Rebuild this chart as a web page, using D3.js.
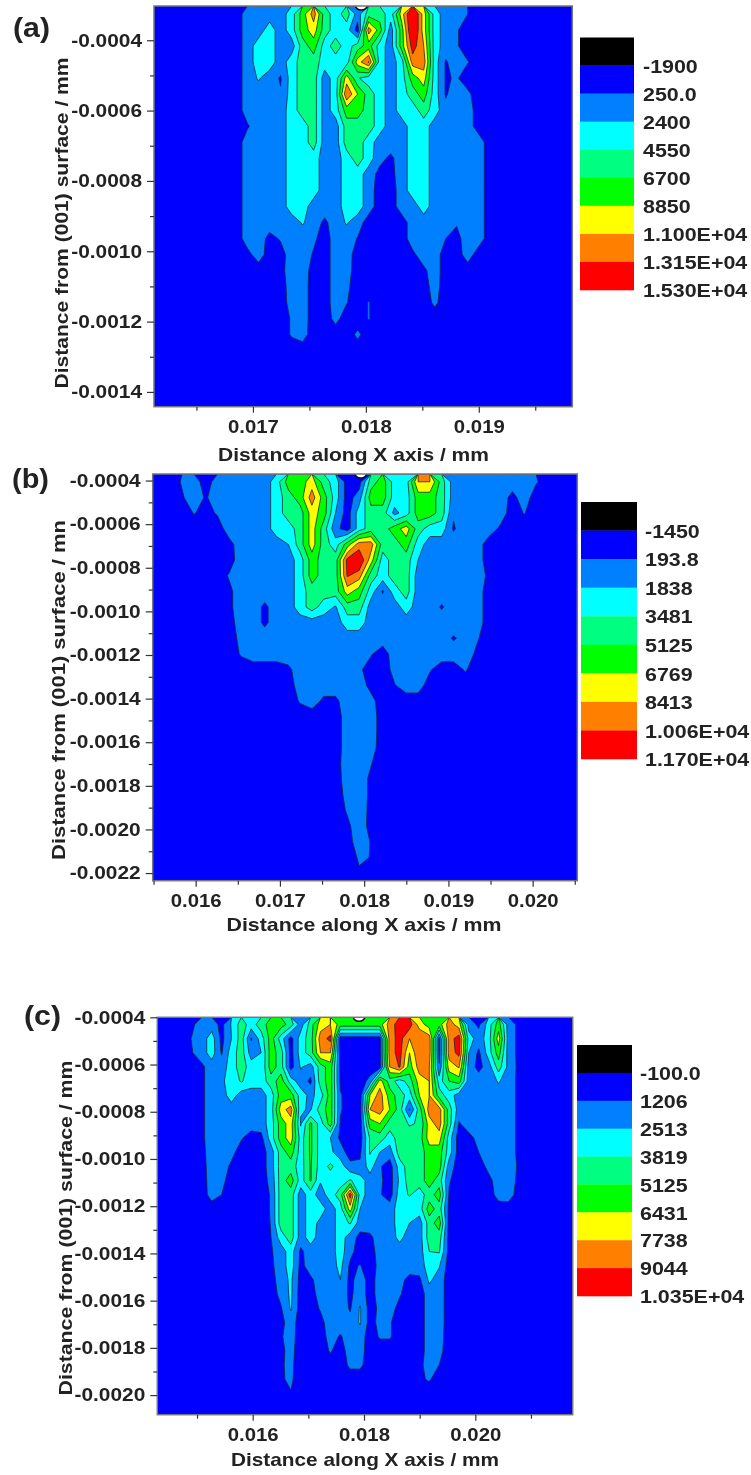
<!DOCTYPE html>
<html lang="en">
<head>
<meta charset="utf-8">
<title>Contour maps</title>
<style>
  body { margin: 0; background: #fff; }
  svg { display: block; filter: blur(0.45px); }
  text { font-family: "Liberation Sans", Arial, sans-serif; font-weight: bold; fill: #222; }
</style>
</head>
<body>
<svg id="chart" width="751" height="1475"></svg>
<script src="https://cdn.jsdelivr.net/npm/d3@7"></script>
<script>
// contour level for each grid cell: 0 = dark blue, 1 = mid blue, 2 = cyan,
// 3 = spring green, 4 = green, 5 = yellow, 6 = orange, 7 = red. Missing cells at row end are 0.
const gridA = [
[0,0,0,0,0,0,0,0,1,1,1,1,2,4,6,3,2,3,1,3,3,2,5,8,5,2,1,1,.5],
[0,0,0,0,0,0,0,0,1,1,2,1,2,4,5,3,2,2,0,6,4,1,4,8,5,2,1,.6],
[0,0,0,0,0,0,0,0,1,2,2,1,1,3,4,2,3,2,3,4,2,1,4,7,5.5,2,1,.6],
[0,0,0,0,0,0,0,0,1,2,2,1,2,3,3,2,2,2,5,6.6,2,1,2,6,6,2,.4,1,.55],
[0,0,0,0,0,0,0,0,1,1.6,1,.4,2,3,3,1,2,5,2.6,2,2,1,2,4,5,2,.4,.6],
[0,0,0,0,0,0,0,0,1,1,1,.6,2,3,3,1,2,6.4,4.5,3,2,1,2,3,4,2,.4,1,.7],
[0,0,0,0,0,0,0,0,1,1,1,1,2,3,3,1,2,4,4,3,2,1,2,2,3,2,.8,1,1],
[0,0,0,0,0,0,0,0,.4,1,1,1,2,2,3,1,1,3,3,3,2,1,1,2,2,1,1,1,1],
[0,0,0,0,0,0,0,0,1,1,1,1,2,2,3,1,1,3,3,2,1,1,1,2,2,1,1,1,1,1],
[0,0,0,0,0,0,0,0,1,1,1,1,2,2,2,1,1,2,3,2,.8,.3,1,2,2,1,1,1,1,1],
[0,0,0,0,0,0,0,0,1,1,1,1,2,2,2,1,1,2,2,1,.2,.2,1,2,2,1,1,1,1,1],
[0,0,0,0,0,0,0,0,1,1,1,1,2,2,2,1,1,2,2,1,0,0,1,2,2,1,1,1,1,1],
[0,0,0,0,0,0,0,0,1,1,1,1,2,2,1,1,1,2,2,1,0,0,1,1,2,1,1,1,1,1],
[0,0,0,0,0,0,0,0,1,1,1,1,1,1.6,1,.3,1,1.6,1,0,0,0,0,1,1,1,1,.6,1,1],
[0,0,0,0,0,0,0,0,1,1,.2,.6,1,1,.7,0,1,1,.45,0,0,0,0,1,1,1,.5,.2,1,1],
[0,0,0,0,0,0,0,0,.2,1,0,.1,1,1,.4,0,1,1,0,0,0,0,0,.3,1,1,0,0,1],
[0,0,0,0,0,0,0,0,0,0,0,.2,1,1,.1,0,1,.9,0,0,0,0,0,0,.3,1],
[0,0,0,0,0,0,0,0,0,0,0,0,1,1,0,0,1,.7,0,0,0,0,0,0,.1,.9],
[0,0,0,0,0,0,0,0,0,0,0,0,.9,1,0,0,1,.55,0,.55,0,0,0,0,0,.7],
[0,0,0,0,0,0,0,0,0,0,0,0,.6,1,0,0,.8,0,0,.55],
[0,0,0,0,0,0,0,0,0,0,0,0,.6,.9,0,0,0,0,.7],
[],[],[],[]
];
const gridB = [
[0,0,.6,1,0,1,1,1,1,1,2,4,4,5,3,2,0,0,3,4,2,2,5.5,5.5,3,1,1,1,1,1,1,1,.6],
[0,0,.4,1,.4,1,1,1,1,1,2,3,4,6,4,2,0,1,4,4,2,2,4,4,3,1,1,1,1,1,.2,1],
[0,0,0,.55,.2,.6,1,1,1,1,2,3,3,5,4,1.5,0,2,3,3,1.2,2,4,4,3,.6,1,1,1,1,0,.55],
[0,0,0,0,0,0,1,1,.6,1,2,2,3,5,3,.8,0,2,3,3,4,5,3,2,2,.4,1,1,1,.3],
[0,0,0,0,0,0,.2,1,1,1,1,1.5,3,5,3,2,4,6,6,3,3,4,2,1,1,1,1,1],
[0,0,0,0,0,0,.1,1,1,1,1,1,2,4,3,3,6.8,7.5,5,2,3,3,1.5,1,1,1,1,1],
[0,0,0,0,0,0,.6,1,1,1,1,1,2,4,3,3,6.6,6,3,2,3,3,1,1,1,1,1,1,.3],
[0,0,0,0,0,0,.3,1,1,1,1,1,2,3,3,3,5,4,2,.4,2,3,1,1,1,1,1,1],
[0,0,0,0,0,0,.3,1,1,.3,1,1,2,3,2,1.4,3,3,1,1,1,2,1,1,.4,1,1,1],
[0,0,0,0,0,0,.1,1,1,.3,1,1,1,1,1,1,2,2,1,1,1,1,1,1,1,1,1,1],
[0,0,0,0,0,0,0,.8,1,1,1,1,1,1,1,1,1,1,1,1,1,1,1,1,1,.4,.8,.6],
[0,0,0,0,0,0,0,.6,1,1,1,1,1,1,1,1,1,1,.6,0,1,1,1,1,1,1,1,.3],
[0,0,0,0,0,0,0,0,0,0,0,.3,1,1,1,1,1,.7,0,0,.8,1,1,.6,0,0,.6],
[0,0,0,0,0,0,0,0,0,0,0,0,1,1,1,1,1,1,.2,0,.45,1,1],
[0,0,0,0,0,0,0,0,0,0,0,0,.6,1,.3,.3,1,1,.8],
[0,0,0,0,0,0,0,0,0,0,0,0,0,0,0,0,1,1,1],
[0,0,0,0,0,0,0,0,0,0,0,0,0,0,0,0,1,1,1],
[0,0,0,0,0,0,0,0,0,0,0,0,0,0,0,0,1,1,.9],
[0,0,0,0,0,0,0,0,0,0,0,0,0,0,0,.1,1,1,.55],
[0,0,0,0,0,0,0,0,0,0,0,0,0,0,0,0,1,1,.3],
[0,0,0,0,0,0,0,0,0,0,0,0,0,0,0,0,.8,1,.3],
[0,0,0,0,0,0,0,0,0,0,0,0,0,0,0,0,.6,1,.25],
[0,0,0,0,0,0,0,0,0,0,0,0,0,0,0,0,.3,1,.2],
[0,0,0,0,0,0,0,0,0,0,0,0,0,0,0,0,.1,1,.45],
[0,0,0,0,0,0,0,0,0,0,0,0,0,0,0,0,0,.62,.48],
[0,0,0,0,0,0,0,0,0,0,0,0,0,0,0,0,0,.4,.45]
];
const gridC = [
[0,0,0,.3,1,1,.2,1.6,3,2,3,4,4,3,1,3,5,5.5,4,4,4,4,4,6,7,7,5,4,4,6,5,1,.3,2,4,1,.3],
[0,0,0,.55,1,2,.2,1.5,3,.4,2,4,2,.1,2,3,6,6.8,0,0,0,0,0,6,6.9,5.5,6.5,6,.2,6,7,2,1,2,5,1,.3],
[0,0,0,.45,1,2,.4,2,3,1,1.5,4,3,.1,2,3,5.5,5.5,0,0,0,0,0,6,6.9,4.5,6.5,6,.2,6,6.8,1.5,.3,2,4,1,.3],
[0,0,0,0,.3,1,1,2,3,2,1.6,4,3,.1,1.6,1,3,4,.3,0,0,0,0,5.5,6.6,4,6,5.5,.6,5,5.6,1,.2,1,3,1.2,.3],
[0,0,0,0,.3,1,1.3,2,2.6,2,2,3,4,2,1,.3,3,4,.3,0,0,.8,5,3,2,3,5,5.5,2,3.5,4,1,1,1,1.6,1,.3],
[0,0,0,0,.3,1,1,2,1,1,1,2,4,4,2,1.2,2,4,.6,0,0,4.5,6,4,3,2,4.5,5.5,3,2,1,1,1,1,1,1,.3],
[0,0,0,0,.3,1,1,1,1,1,1,2,5,6,1.6,1.4,3,4,.6,0,0,5.5,6,4.5,3,.4,3,6,6,3,1,1,1,1,1,1,.3],
[0,0,0,0,.3,1,1,1,1,1,1,2,4,5,1.4,3.7,2,4,.4,0,0,4,4.5,3,3,2.4,2.6,5,6,3,.4,1,1,1,1,1,.3],
[0,0,0,0,.3,1,1,1,.6,0,.2,2,4,5,2,3.7,2,1.5,.3,0,0,2.6,3,2,3,3,3,5,5,2,0,.2,.8,1,1,1,.3],
[0,0,0,0,.2,1,1,.8,0,0,0,1,3,4,2,3.7,2,1.7,1,0,.3,2.6,1.5,1,3,3,3,4,4,2,0,0,.5,1,1,1,.3],
[0,0,0,0,.1,1,1,.3,0,0,0,1,3,3,2,3.6,2,2.7,2,.8,.7,2,.6,0,2,3,3,4,4,1,0,0,0,.8,1,1,.4],
[0,0,0,0,0,1,.8,0,0,0,0,.8,3,4,2,3.6,1.6,2,2,2.6,2,1,.7,0,1.7,3,3,4,3,.6,0,0,0,.2,1,1,.3],
[0,0,0,0,0,.9,.5,0,0,0,0,.6,3,3,1,2,1,2,3,7,2,1,.6,0,2,2.6,2,3,4,.4,0,0,0,0,.9,1,.1],
[0,0,0,0,0,0,0,0,0,0,0,.6,3,3,1,2,2,1,2,5,1.5,1,1,1,2,1.6,2,4,3,.2],
[0,0,0,0,0,0,0,0,0,0,0,.55,3,3,1,2,1.2,1,2,2.6,1,1,1,1,2,1.5,1,3,4,.1],
[0,0,0,0,0,0,0,0,0,0,0,.5,2,3,1,2,1,1,2,1,.2,.3,1,1,1.8,1,1,3,3,.1],
[0,0,0,0,0,0,0,0,0,0,0,.4,1,2,.3,1,1,1,2,.8,0,0,1,1,1,1,1,2.5,2.6,.1],
[0,0,0,0,0,0,0,0,0,0,0,.3,1,2,.2,1,1,1,1.8,.3,.55,0,.8,1,1,1,1,2,1.6],
[0,0,0,0,0,0,0,0,0,0,0,.1,1,1.7,.1,.3,1,1,1.5,.2,1,.1,.9,1,.8,.2,.3,1.7,1],
[0,0,0,0,0,0,0,0,0,0,0,0,.8,1.7,0,0,1,1,1,.3,1,.1,.9,1,.6,0,0,1,1],
[0,0,0,0,0,0,0,0,0,0,0,0,.4,1.6,0,0,.6,1,1,.4,1.6,.1,.7,.9,.2,0,0,1,1],
[0,0,0,0,0,0,0,0,0,0,0,0,.2,1,0,0,.2,1,1,.8,1.6,.1,.8,.6,0,0,0,1,1],
[0,0,0,0,0,0,0,0,0,0,0,0,.4,.9,0,0,0,.9,.4,1,1,0,.6,.6,0,0,0,1,.9],
[0,0,0,0,0,0,0,0,0,0,0,0,.3,.8,0,0,0,.6,0,1,.9,0,0,0,0,0,0,1,.8],
[0,0,0,0,0,0,0,0,0,0,0,0,.4,.7,0,0,0,0,0,.7,.7,0,0,0,0,0,.2,1,.5],
[0,0,0,0,0,0,0,0,0,0,0,0,.4,.65,0,0,0,0,0,0,0,0,0,0,0,0,.35,.6],
[0,0,0,0,0,0,0,0,0,0,0,0,0,.45],
[]
];

// contour boundaries, as printed in each legend
const thresholdsA = [250, 2400, 4550, 6700, 8850, 11000, 13150];
const thresholdsB = [193.8, 1838, 3481, 5125, 6769, 8413, 10060];
const thresholdsC = [1206, 2513, 3819, 5125, 6431, 7738, 9044];
const legendA = ["-1900", "250.0", "2400", "4550", "6700", "8850", "1.100E+04", "1.315E+04", "1.530E+04"];
const legendB = ["-1450", "193.8", "1838", "3481", "5125", "6769", "8413", "1.006E+04", "1.170E+04"];
const legendC = ["-100.0", "1206", "2513", "3819", "5125", "6431", "7738", "9044", "1.035E+04"];

const xTicksA = [0.017, 0.018, 0.019];
const xMinorA = [0.0165, 0.0175, 0.0185, 0.0195];
const xTicksB = [0.016, 0.017, 0.018, 0.019, 0.020];
const xMinorB = [0.0155, 0.0165, 0.0175, 0.0185, 0.0195, 0.0205];
const xTicksC = [0.016, 0.018, 0.020];
const xMinorC = [0.015, 0.017, 0.019, 0.021];
const yTicksA = [-0.0004, -0.0006, -0.0008, -0.0010, -0.0012, -0.0014];
const yTicksB = [-0.0004, -0.0006, -0.0008, -0.0010, -0.0012, -0.0014, -0.0016, -0.0018, -0.0020, -0.0022];
const yTicksC = [-0.0004, -0.0006, -0.0008, -0.0010, -0.0012, -0.0014, -0.0016, -0.0018, -0.0020];

const colors = ["#000000", "#0000ff", "#0080ff", "#00ffff", "#00ff80", "#00ff00", "#ffff00", "#ff8000", "#ff0000"];

const panels = [
  { tag: "(a)", tagX: 13, tagY: 30, grid: gridA, nx: 38, thresholds: thresholdsA, legend: legendA,
    left: 154, right: 572.3, top: 6, bottom: 406.7,
    xDomain: [0.016124, 0.019828], yDomain: [-0.0003026, -0.001442],
    xTicks: xTicksA, xMinor: xMinorA, yTicks: yTicksA, notchX: 0.01796,
    xTitle: "Distance along X axis / mm", xTitleX: 353.5, xTitleY: 456.5, xTitleW: 271,
    yTitle: "Distance from (001) surface / mm", yTitleX: 63, yTitleY: 223, yTitleW: 331,
    legX: 580, legW: 54, legTop: 37.5, legBottom: 290, legText: 643 },
  { tag: "(b)", tagX: 12, tagY: 481, grid: gridB, nx: 36, thresholds: thresholdsB, legend: legendB,
    left: 152.7, right: 577.3, top: 474, bottom: 880.7,
    xDomain: [0.01549, 0.02053], yDomain: [-0.00037, -0.002235],
    xTicks: xTicksB, xMinor: xMinorB, yTicks: yTicksB, notchX: 0.01796,
    xTitle: "Distance along X axis / mm", xTitleX: 364, xTitleY: 926.5, xTitleW: 275,
    yTitle: "Distance from (001) surface / mn", yTitleX: 60, yTitleY: 690, yTitleW: 340,
    legX: 581, legW: 56, legTop: 502, legBottom: 759, legText: 645 },
  { tag: "(c)", tagX: 24, tagY: 1018, grid: gridC, nx: 42, thresholds: thresholdsC, legend: legendC,
    left: 157.3, right: 572.7, top: 1017.3, bottom: 1414.7,
    xDomain: [0.014286, 0.02175], yDomain: [-0.0004, -0.002083],
    xTicks: xTicksC, xMinor: xMinorC, yTicks: yTicksC, notchX: 0.017911,
    xTitle: "Distance along X axis / mm", xTitleX: 365, xTitleY: 1461.5, xTitleW: 268,
    yTitle: "Distance from (001) surface / mm", yTitleX: 67, yTitleY: 1228, yTitleW: 335,
    legX: 577, legW: 55, legTop: 1045, legBottom: 1296, legText: 640 }
];

const svg = d3.select("#chart");

// the source text is wider than the font, so stretch tick labels a bit
function widen(sel, k) {
  sel.each(function () {
    const w = this.getComputedTextLength();
    d3.select(this).attr("textLength", w * k).attr("lengthAdjust", "spacingAndGlyphs");
  });
}
// plain hyphen, d3 uses a long minus sign
const hyphen = fmt => v => fmt(v).replace("\u2212", "-");

panels.forEach((p, n) => {
  const g = svg.append("g");
  const ny = p.grid.length;
  const x = d3.scaleLinear().domain(p.xDomain).range([p.left, p.right]);
  const y = d3.scaleLinear().domain(p.yDomain).range([p.top, p.bottom]);
  const colX = d3.scaleLinear().domain([0, p.nx]).range(p.xDomain);
  const rowY = d3.scaleLinear().domain([0, ny]).range(p.yDomain);

  // levels sit half a step either side of a printed boundary
  const levelToValue = d3.scaleLinear().domain(p.thresholds.map((t, i) => i + 0.5)).range(p.thresholds);
  const values = [];
  p.grid.forEach(row => d3.range(p.nx).forEach(i => values.push(levelToValue(row[i] ?? 0))));

  const contours = d3.contours().size([p.nx, ny]).thresholds(p.thresholds)(values);
  const path = d3.geoPath(d3.geoTransform({
    point(cx, cy) { this.stream.point(x(colX(cx)), y(rowY(cy))); }
  }));

  const clipId = "clip" + n;
  g.append("clipPath").attr("id", clipId).append("rect")
    .attr("x", p.left).attr("y", p.top)
    .attr("width", p.right - p.left).attr("height", p.bottom - p.top);

  const plot = g.append("g").attr("clip-path", `url(#${clipId})`);
  plot.append("rect")
    .attr("x", p.left).attr("y", p.top)
    .attr("width", p.right - p.left).attr("height", p.bottom - p.top)
    .attr("fill", colors[1]);
  plot.selectAll("path").data(contours).join("path")
    .attr("d", path)
    .attr("fill", (d, i) => colors[i + 2])
    .attr("stroke", "#1a2a3a")
    .attr("stroke-width", 0.8)
    .attr("stroke-linejoin", "round");
  // the small gap at the top edge, below the lowest level
  plot.append("ellipse")
    .attr("cx", x(p.notchX)).attr("cy", p.top - 1)
    .attr("rx", 6).attr("ry", 5)
    .attr("fill", "#fff").attr("stroke", "#111").attr("stroke-width", 1.6);

  // frame
  g.append("rect")
    .attr("x", p.left).attr("y", p.top)
    .attr("width", p.right - p.left).attr("height", p.bottom - p.top)
    .attr("fill", "none").attr("stroke", "#777").attr("stroke-width", 1.5);

  // axes
  const xAxis = g.append("g").attr("transform", `translate(0,${p.bottom})`)
    .call(d3.axisBottom(x).tickValues(p.xTicks).tickFormat(d3.format(".3f")).tickSize(6).tickPadding(8));
  const xMinor = g.append("g").attr("transform", `translate(0,${p.bottom})`)
    .call(d3.axisBottom(x).tickValues(p.xMinor).tickFormat("").tickSize(4));
  const yMinorVals = d3.range(p.yTicks.length).map(i => p.yTicks[i] - 0.0001)
    .filter(v => v > p.yDomain[1]);
  const yAxis = g.append("g").attr("transform", `translate(${p.left},0)`)
    .call(d3.axisLeft(y).tickValues(p.yTicks).tickFormat(hyphen(d3.format(".4f"))).tickSize(7).tickPadding(5));
  const yMinor = g.append("g").attr("transform", `translate(${p.left},0)`)
    .call(d3.axisLeft(y).tickValues(yMinorVals).tickFormat("").tickSize(4));
  [xAxis, xMinor, yAxis, yMinor].forEach(a => {
    a.select(".domain").remove();
    a.selectAll("line").attr("stroke", "#333").attr("stroke-width", 1.2);
    a.selectAll("text").attr("font-size", 18);
  });
  xAxis.selectAll("text").call(widen, 1.13);
  yAxis.selectAll("text").call(widen, 1.16);

  // titles
  g.append("text").text(p.xTitle)
    .attr("x", p.xTitleX).attr("y", p.xTitleY)
    .attr("text-anchor", "middle").attr("dominant-baseline", "middle")
    .attr("font-size", 18.5)
    .attr("textLength", p.xTitleW).attr("lengthAdjust", "spacingAndGlyphs");
  g.append("text").text(p.yTitle)
    .attr("transform", `translate(${p.yTitleX},${p.yTitleY}) rotate(-90)`)
    .attr("text-anchor", "middle").attr("dominant-baseline", "middle")
    .attr("font-size", 18)
    .attr("textLength", p.yTitleW).attr("lengthAdjust", "spacingAndGlyphs");
  g.append("text").text(p.tag)
    .attr("x", p.tagX).attr("y", p.tagY)
    .attr("dominant-baseline", "middle")
    .attr("font-size", 27)
    .attr("textLength", 37).attr("lengthAdjust", "spacingAndGlyphs");

  // legend: one swatch per label, the label sits on the lower edge of its swatch
  const band = d3.scaleBand().domain(p.legend).range([p.legTop, p.legBottom]);
  const leg = g.append("g");
  leg.selectAll("rect").data(p.legend).join("rect")
    .attr("x", p.legX).attr("y", d => band(d))
    .attr("width", p.legW).attr("height", band.bandwidth() + 0.3)
    .attr("fill", (d, i) => colors[i]);
  leg.selectAll("text").data(p.legend).join("text")
    .text(d => d)
    .attr("x", p.legText).attr("y", d => band(d) + band.bandwidth() + 2.5)
    .attr("dominant-baseline", "middle")
    .attr("font-size", 18)
    .call(widen, 1.19);
});
</script>
</body>
</html>
